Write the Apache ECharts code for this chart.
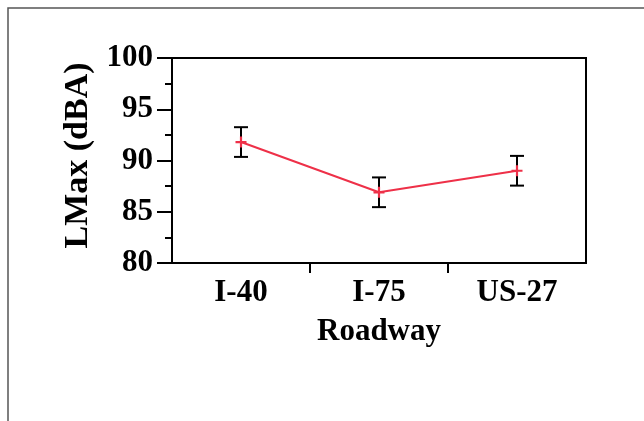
<!DOCTYPE html>
<html>
<head>
<meta charset="utf-8">
<style>
  html, body { margin: 0; padding: 0; background: #fff; }
  #chart { width: 644px; height: 421px; }
</style>
<script src="https://cdn.jsdelivr.net/npm/echarts@6/dist/echarts.min.js"></script>
</head>
<body>
<div id="chart"></div>
<script>
// Mean LMax per roadway with ± error
const roadways = ['I-40', 'I-75', 'US-27'];
const meanLMax = [91.8, 86.9, 89.0];
const errLMax = [1.45, 1.45, 1.45];
const yTicks = [80, 85, 90, 95, 100];
// Separator ticks between roadway bands (band index units)
const bandSeparators = [1, 2];

const FONT = '"Liberation Serif", "Times New Roman", serif';
const RED = '#ee3048';

const chart = echarts.init(document.getElementById('chart'), null, { renderer: 'canvas' });

const errorData = roadways.map((r, i) => [i, meanLMax[i] - errLMax[i], meanLMax[i] + errLMax[i]]);

chart.setOption({
  animation: false,
  backgroundColor: '#fff',
  graphic: [{
    type: 'rect',
    shape: { x: 8, y: 8, width: 800, height: 600 },
    style: { fill: 'none', stroke: '#555', lineWidth: 1.5 },
    silent: true
  }],
  grid: {
    left: 172, right: 58, top: 58, bottom: 158,
    show: true, borderColor: '#000', borderWidth: 2, backgroundColor: 'transparent'
  },
  xAxis: [
    {
      type: 'category',
      data: roadways,
      boundaryGap: true,
      name: 'Roadway',
      nameLocation: 'middle',
      nameGap: 53,
      nameTextStyle: { fontFamily: FONT, fontWeight: 'bold', fontSize: 31, color: '#000' },
      axisLine: { lineStyle: { color: '#000', width: 2 } },
      axisTick: { show: false },
      axisLabel: { fontFamily: FONT, fontWeight: 'bold', fontSize: 31, color: '#000', margin: 14 },
      splitLine: { show: false }
    },
    {
      // band separator ticks only
      type: 'value',
      position: 'bottom',
      min: 0, max: roadways.length,
      axisLine: { show: false },
      axisTick: { show: true, length: 10, lineStyle: { color: '#000', width: 2 }, customValues: bandSeparators },
      axisLabel: { show: false },
      splitLine: { show: false }
    }
  ],
  yAxis: {
    type: 'value',
    min: yTicks[0], max: yTicks[yTicks.length - 1], interval: 5,
    name: 'LMax (dBA)',
    nameLocation: 'middle',
    nameGap: 71,
    nameTextStyle: { fontFamily: FONT, fontWeight: 'bold', fontSize: 34, color: '#000', padding: [0, 0, 0, 10] },
    axisLine: { show: true, lineStyle: { color: '#000', width: 2 } },
    axisTick: { show: true, length: 15, lineStyle: { color: '#000', width: 2 } },
    minorTick: { show: true, splitNumber: 2, length: 7, lineStyle: { color: '#000', width: 2 } },
    axisLabel: { fontFamily: FONT, fontWeight: 'bold', fontSize: 31, color: '#000', margin: 19, padding: [6, 0, 0, 0] },
    splitLine: { show: false }
  },
  series: [
    {
      type: 'custom',
      z: 2,
      data: errorData,
      renderItem: (params, api) => {
        const x = api.value(0);
        const lo = api.coord([x, api.value(1)]);
        const hi = api.coord([x, api.value(2)]);
        const hw = 7;
        const st = { stroke: '#000', lineWidth: 2 };
        return {
          type: 'group',
          children: [
            { type: 'line', shape: { x1: lo[0], y1: lo[1], x2: hi[0], y2: hi[1] }, style: st },
            { type: 'line', shape: { x1: lo[0] - hw, y1: lo[1], x2: lo[0] + hw, y2: lo[1] }, style: st },
            { type: 'line', shape: { x1: hi[0] - hw, y1: hi[1], x2: hi[0] + hw, y2: hi[1] }, style: st }
          ]
        };
      }
    },
    {
      type: 'line',
      z: 3,
      data: meanLMax,
      symbol: 'path://M4,0H6V4H10V6H6V10H4V6H0V4H4Z',
      symbolSize: 11,
      itemStyle: { color: RED },
      lineStyle: { color: RED, width: 2 }
    }
  ]
});
</script>
</body>
</html>
